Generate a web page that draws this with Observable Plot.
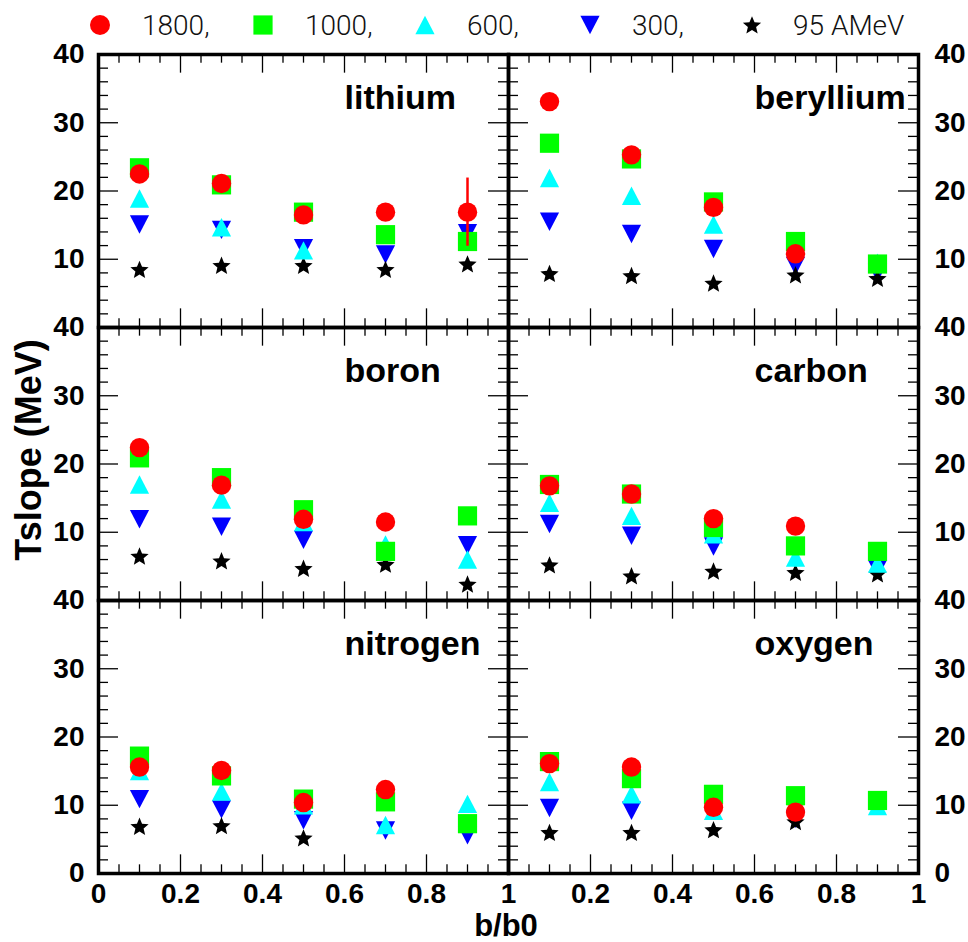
<!DOCTYPE html>
<html>
<head>
<meta charset="utf-8">
<script src="https://cdn.jsdelivr.net/npm/d3@7"></script>
<script src="https://cdn.jsdelivr.net/npm/@observablehq/plot@0.6"></script>
<style>
  html, body { margin: 0; padding: 0; background: white; }
  #chart svg { display: block; }
</style>
</head>
<body>
<div id="chart"></div>
<script>
// ---- data ----
const elements = ["lithium", "beryllium", "boron", "carbon", "nitrogen", "oxygen"];
const bb0 = [0.1, 0.3, 0.5, 0.7, 0.9];
const energyLabels = ["1800,", "1000,", "600,", "300,", "95 AMeV"];

// rows: lithium, beryllium, boron, carbon, nitrogen, oxygen ; columns: b/b0 = 0.1 .. 0.9
const T1800 = [
  [22.5, 21.1, 16.5, 16.9, 16.9],
  [33.1, 25.3, 17.6, 10.8, null],
  [22.4, 16.9, 11.9, 11.5, null],
  [16.8, 15.6, 12.0, 10.9, null],
  [15.6, 15.1, 10.4, 12.3, null],
  [16.1, 15.6, 9.7, 9.0, null]
];
const err1800 = [
  [0, 0, 0, 0, 5.0],
  [0, 0, 0, 0, 0],
  [0, 0, 0, 0, 0],
  [0, 0, 0, 0, 0],
  [0, 0, 0, 0, 0],
  [0, 0, 0, 0, 0]
];
const T1000 = [
  [23.4, 20.9, 16.9, 13.6, 12.6],
  [27.0, 24.7, 18.4, 12.6, 9.3],
  [20.9, 18.0, 13.3, 7.2, 12.4],
  [17.0, 15.6, 10.7, 8.0, 7.2],
  [17.2, 14.3, 10.9, 10.5, 7.3],
  [16.4, 13.9, 11.6, 11.4, 10.7]
];
const T600 = [
  [18.9, 14.7, 11.3, null, null],
  [21.9, 19.3, 15.1, null, 9.5],
  [17.0, 14.8, 11.5, 8.2, 6.0],
  [14.3, 12.4, 9.7, 6.3, 5.4],
  [15.0, 12.0, 10.0, 7.1, 10.2],
  [13.4, 11.6, 9.2, null, 9.9]
];
const T300 = [
  [15.1, 14.3, 11.6, 10.7, 13.8],
  [15.5, 13.7, 11.5, 9.0, 8.0],
  [11.9, 10.8, 8.9, 6.9, 8.1],
  [11.2, 9.5, 7.9, null, 4.6],
  [10.9, 9.4, 7.8, 6.3, 5.6],
  [9.6, 9.2, null, 8.0, null]
];
const T95 = [
  [8.5, 9.1, 9.1, 8.5, 9.3],
  [7.9, 7.6, 6.5, 7.7, 7.2],
  [6.5, 5.8, 4.7, 5.3, 2.4],
  [5.2, 3.6, 4.3, 4.1, 3.9],
  [6.9, 7.0, 5.2, null, null],
  [6.0, 6.0, 6.4, 7.6, null]
];
const yTickLabels = [0, 10, 20, 30, 40];
const xTickLabels = [0, 0.2, 0.4, 0.6, 0.8, 1];
const xMajor = [0.2, 0.4, 0.6, 0.8];
const yMajor = [10, 20, 30];

// ---- helpers ----
function toRows(arr, errArr) {
  const out = [];
  arr.forEach((vals, i) => vals.forEach((v, j) => {
    if (v != null) out.push({el: elements[i], col: i % 2, row: Math.floor(i / 2), x: bb0[j], y: v, e: errArr ? errArr[i][j] : 0});
  }));
  return out;
}
const d1800 = toRows(T1800, err1800);
const d1000 = toRows(T1000);
const d600 = toRows(T600);
const d300 = toRows(T300);
const d95 = toRows(T95);

const rad = (s) => Math.sqrt(s / Math.PI);
const symSquare = {draw(c, s) { const r = rad(s); c.rect(-r, -r, 2 * r, 2 * r); }};
const symUp = {draw(c, s) { const r = rad(s), h = r * 0.96; c.moveTo(0, -h); c.lineTo(r, h); c.lineTo(-r, h); c.closePath(); }};
const symDown = {draw(c, s) { const r = rad(s), h = r * 0.96; c.moveTo(0, h); c.lineTo(r, -h); c.lineTo(-r, -h); c.closePath(); }};
const symStar = {draw(c, s) {
  const R = rad(s), ri = R * 0.45;
  for (let k = 0; k < 10; k++) {
    const a = -Math.PI / 2 + k * Math.PI / 5, rr = k % 2 ? ri : R;
    const px = rr * Math.cos(a), py = rr * Math.sin(a) + R * 0.08;
    if (k === 0) c.moveTo(px, py); else c.lineTo(px, py);
  }
  c.closePath();
}};

// ---- layout ----
const W = 968, H = 942;
const mL = 98, mR = 50, mT = 53, mB = 69;
const facetW = (W - mL - mR) / 2, facetH = (H - mT - mB) / 3;
const xMinor = d3.range(1, 20).map(k => k / 20).filter(v => !xMajor.some(m => Math.abs(m - v) < 1e-9));
const yMinor = d3.range(1, 20).map(k => k * 2).filter(v => v % 10 !== 0);

const tickStyle = {stroke: "black", strokeWidth: 1.3};
const labelFont = {fontSize: 28, fontWeight: "bold", fill: "black"};

const yLeft = [0, 1, 2].flatMap(r => yTickLabels.filter(v => v > 0 || r === 2).map(v => ({row: r, v})));
const xLabs = [0, 1].flatMap(c => xTickLabels.filter(v => c === 0 || v > 0).map(v => ({col: c, v})));

const plot = Plot.plot({
  width: W, height: H,
  marginLeft: mL, marginRight: mR, marginTop: mT, marginBottom: mB,
  x: {domain: [0, 1], axis: null},
  y: {domain: [0, 40], axis: null},
  fx: {domain: [0, 1], padding: 0, axis: null},
  fy: {domain: [0, 1, 2], padding: 0, axis: null},
  style: {background: "white", fontFamily: "'Liberation Sans', Arial, Helvetica, sans-serif", overflow: "visible"},
  marks: [
    // inward ticks on all four sides of every panel
    Plot.tickX(xMajor, {x: d => d, insetTop: facetH - 19, ...tickStyle}),
    Plot.tickX(xMinor, {x: d => d, insetTop: facetH - 9, ...tickStyle}),
    Plot.tickX(xMajor, {x: d => d, insetBottom: facetH - 19, ...tickStyle}),
    Plot.tickX(xMinor, {x: d => d, insetBottom: facetH - 9, ...tickStyle}),
    Plot.tickY(yMajor, {y: d => d, insetRight: facetW - 20, ...tickStyle}),
    Plot.tickY(yMinor, {y: d => d, insetRight: facetW - 10, ...tickStyle}),
    Plot.tickY(yMajor, {y: d => d, insetLeft: facetW - 20, ...tickStyle}),
    Plot.tickY(yMinor, {y: d => d, insetLeft: facetW - 10, ...tickStyle}),
    // tick labels
    Plot.text(yLeft, {x: () => 0, y: "v", fx: () => 0, fy: "row", text: d => String(d.v), textAnchor: "end", dx: -14, ...labelFont}),
    Plot.text(yLeft, {x: () => 1, y: "v", fx: () => 1, fy: "row", text: d => String(d.v), textAnchor: "start", dx: 16, ...labelFont}),
    Plot.text(xLabs, {x: "v", y: () => 0, fx: "col", fy: () => 2, text: d => String(d.v), dy: 21, ...labelFont}),
    // element names
    Plot.text(elements, {x: () => 0.6, y: () => 33.6, fx: (d, i) => i % 2, fy: (d, i) => Math.floor(i / 2), text: d => d, textAnchor: "start", fontSize: 34, fontWeight: "bold", fill: "black"}),
    // data
    Plot.dot(d300, {x: "x", y: "y", fx: "col", fy: "row", symbol: symDown, r: 9.6, fill: "#0000ff"}),
    Plot.dot(d95, {x: "x", y: "y", fx: "col", fy: "row", symbol: symStar, r: 9.6, fill: "black"}),
    Plot.dot(d600, {x: "x", y: "y", fx: "col", fy: "row", symbol: symUp, r: 9.6, fill: "#00ffff"}),
    Plot.dot(d1000, {x: "x", y: "y", fx: "col", fy: "row", symbol: symSquare, r: 9.6, fill: "#00ff00"}),
    Plot.ruleX(d1800.filter(d => d.e > 0), {x: "x", y1: d => d.y - d.e, y2: d => d.y + d.e, fx: "col", fy: "row", stroke: "red", strokeWidth: 2.5}),
    Plot.dot(d1800, {x: "x", y: "y", fx: "col", fy: "row", r: 9.7, fill: "red"}),
    Plot.frame({stroke: "black", strokeWidth: 3.5})
  ]
});

const svg = d3.select(plot);
svg.append("text")
  .attr("transform", `translate(41, 450) rotate(-90)`)
  .attr("text-anchor", "middle")
  .attr("font-size", 36).attr("font-weight", "bold")
  .attr("font-family", "'Liberation Sans', Arial, sans-serif")
  .text("Tslope (MeV)");
svg.append("text")
  .attr("x", 506).attr("y", 936)
  .attr("text-anchor", "middle")
  .attr("font-size", 31).attr("font-weight", "bold")
  .attr("font-family", "'Liberation Sans', Arial, sans-serif")
  .text("b/b0");

// ---- legend (drawn in the same svg, above the panels) ----
const leg = svg.append("g");
const legItems = [
  {sym: null, color: "red", mx: 100, tx: 142, r: 10},
  {sym: symSquare, color: "#00ff00", mx: 263, tx: 305, r: 9.6},
  {sym: symUp, color: "#00ffff", mx: 425, tx: 467, r: 9.6},
  {sym: symDown, color: "#0000ff", mx: 590, tx: 632, r: 9.6},
  {sym: symStar, color: "black", mx: 752, tx: 793, r: 9.6}
];
legItems.forEach((it, i) => {
  if (it.sym) {
    leg.append("path").attr("transform", `translate(${it.mx},25)`)
      .attr("d", d3.symbol(it.sym, Math.PI * it.r * it.r)()).attr("fill", it.color);
  } else {
    leg.append("circle").attr("cx", it.mx).attr("cy", 25).attr("r", it.r).attr("fill", it.color);
  }
  leg.append("text").attr("x", it.tx).attr("y", 25).attr("dy", "0.35em")
    .attr("text-anchor", "start")
    .attr("font-family", "Roboto, 'Liberation Sans', sans-serif").attr("font-weight", 300)
    .attr("font-size", 28).attr("fill", "#111").text(energyLabels[i]);
});
document.getElementById("chart").appendChild(plot);
</script>
</body>
</html>
